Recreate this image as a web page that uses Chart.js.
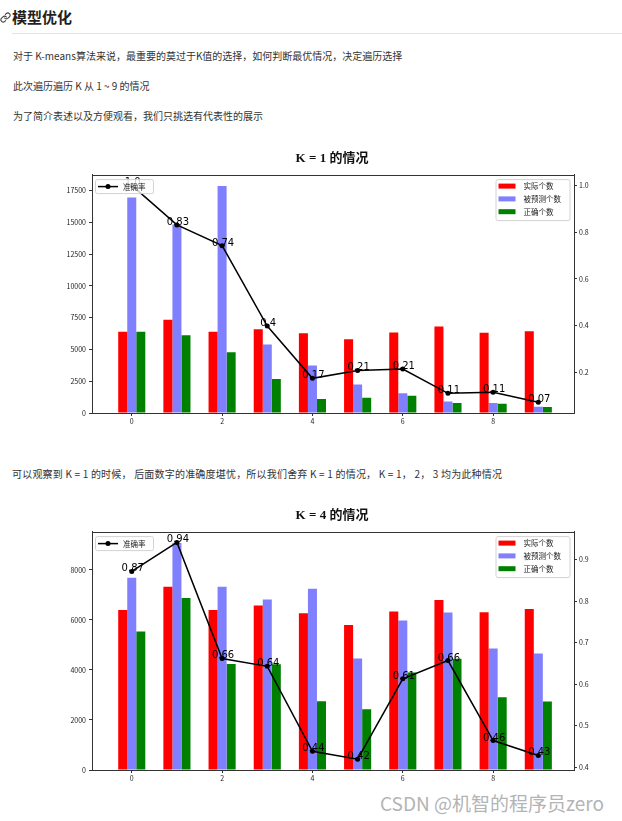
<!DOCTYPE html>
<html lang="zh-CN">
<head>
<meta charset="utf-8">
<title>模型优化</title>
<script src="https://cdn.jsdelivr.net/npm/chart.js@4.4.0/dist/chart.umd.min.js"></script>
<style>
  html, body { margin: 0; padding: 0; background: #fff; }
  body {
    width: 622px; height: 821px; position: relative; overflow: hidden;
    font-family: "Noto Sans CJK SC", "Noto Sans", sans-serif; color: #333;
  }
  .icon { position: absolute; left: 0; top: 12px; }
  h2 {
    position: absolute; left: 12px; top: 7px; margin: 0;
    font-size: 15px; line-height: 20px; font-weight: 700; color: #1f1f1f;
  }
  .rule { position: absolute; left: 12px; right: 0; top: 33px; height: 1px; background: #e3e3e3; }
  p { position: absolute; left: 13px; margin: 0; font-size: 10px; line-height: 14px; white-space: nowrap; }
  canvas { position: absolute; left: 0; }
  .mark {
    position: absolute; left: 380px; top: 791px; font-size: 19px; line-height: 24px;
    color: #b4b4b4; white-space: nowrap;
  }
</style>
</head>
<body>

<svg class="icon" width="11" height="11" viewBox="0 0 24 24" fill="none" stroke="#444" stroke-width="2.4" stroke-linecap="round">
  <path d="M10 13a5 5 0 0 0 7.54.54l3-3a5 5 0 0 0-7.07-7.07l-1.72 1.71"/>
  <path d="M14 11a5 5 0 0 0-7.54-.54l-3 3a5 5 0 0 0 7.07 7.07l1.71-1.71"/>
</svg>
<h2>模型优化</h2>
<div class="rule"></div>

<p style="top:49px">对于 K-means算法来说，最重要的莫过于K值的选择，如何判断最优情况，决定遍历选择</p>
<p style="top:79px">此次遍历遍历 K 从 1 ~ 9 的情况</p>
<p style="top:109px">为了简介表述以及方便观看，我们只挑选有代表性的展示</p>

<canvas id="grafico1" width="622" height="290" style="top:140px"></canvas>

<p style="top:467px; left:12px; letter-spacing:0.2px">可以观察到 K = 1 的时候， 后面数字的准确度堪忧，所以我们舍弃 K = 1 的情况， K = 1， 2， 3 均为此种情况</p>

<canvas id="grafico2" width="622" height="290" style="top:497px"></canvas>

<div class="mark">CSDN @机智的程序员zero</div>

<script>
// categorias (rótulo do cluster)
const kIndex = [0, 1, 2, 3, 4, 5, 6, 7, 8, 9];
const xTicks = [0, 2, 4, 6, 8];

// contagem real, igual nos dois casos
const actualCounts = [6400, 7330, 6400, 6580, 6270, 5800, 6340, 6800, 6310, 6440];

// K = 1
const predicted1 = [16950, 14820, 17860, 5380, 3740, 2240, 1560, 905, 780, 490];
const correct1 = [6400, 6110, 4780, 2680, 1100, 1190, 1360, 780, 725, 470];
const accuracy1 = [1.0, 0.831, 0.742, 0.398, 0.174, 0.208, 0.214, 0.11, 0.114, 0.072];
const countTicks1 = [0, 2500, 5000, 7500, 10000, 12500, 15000, 17500];
const accTicks1 = [0.2, 0.4, 0.6, 0.8, 1.0];

// K = 4
const predicted2 = [7690, 9080, 7330, 6820, 7250, 4460, 5980, 6300, 4860, 4660];
const correct2 = [5540, 6880, 4240, 4230, 2750, 2430, 3900, 4450, 2910, 2740];
const accuracy2 = [0.872, 0.942, 0.662, 0.643, 0.438, 0.419, 0.613, 0.657, 0.464, 0.428];
const countTicks2 = [0, 2000, 4000, 6000, 8000];
const accTicks2 = [0.4, 0.5, 0.6, 0.7, 0.8, 0.9];

const seriesNames = ["实际个数", "被预测个数", "正确个数"];
const lineName = "准确率";

Chart.defaults.font.family = '"Noto Sans CJK SC", "DejaVu Sans", sans-serif';
Chart.defaults.color = "#222";

// mesmo texto que o python imprime: round(x, 2)
function pyRound(v) {
  const s = String(Math.round(v * 100) / 100);
  return s.indexOf(".") < 0 ? s + ".0" : s;
}

function fixTicks(values) {
  return (scale) => { scale.ticks = values.map(v => ({ value: v })); };
}

function drawBox(ctx, x, y, w, h) {
  ctx.save();
  ctx.fillStyle = "rgba(255,255,255,0.8)";
  ctx.strokeStyle = "#d2d2d2";
  ctx.lineWidth = 1;
  ctx.beginPath();
  ctx.roundRect(x + 0.5, y + 0.5, w, h, 2);
  ctx.fill();
  ctx.stroke();
  ctx.restore();
}

const extras = {
  id: "extras",
  afterDatasetsDraw(chart) {
    // valores em cima dos pontos
    const ctx = chart.ctx;
    const ds = chart.data.datasets[3];
    const pts = chart.getDatasetMeta(3).data;
    ctx.save();
    ctx.font = '10px "DejaVu Sans"';
    ctx.fillStyle = "#000";
    ctx.textAlign = "center";
    ctx.textBaseline = "alphabetic";
    pts.forEach((p, i) => ctx.fillText(pyRound(ds.data[i]), p.x + 1, p.y));
    ctx.restore();
  },
  afterDraw(chart) {
    const ctx = chart.ctx;
    const a = chart.chartArea;
    const sets = chart.data.datasets;

    // borda de cima
    ctx.save();
    ctx.strokeStyle = "#333";
    ctx.lineWidth = 1;
    ctx.beginPath();
    ctx.moveTo(a.left, Math.round(a.top) + 0.5);
    ctx.lineTo(a.right, Math.round(a.top) + 0.5);
    ctx.stroke();
    ctx.restore();

    ctx.save();
    ctx.font = '7.5px "Noto Sans CJK SC"';
    ctx.textBaseline = "middle";
    ctx.fillStyle = "#222";

    // legenda da linha (esquerda)
    let x = a.left + 3, y = a.top + 4.5;
    drawBox(ctx, x, y, 58, 14);
    ctx.strokeStyle = "#000";
    ctx.lineWidth = 1.5;
    ctx.beginPath();
    ctx.moveTo(x + 3, y + 7.5);
    ctx.lineTo(x + 23, y + 7.5);
    ctx.stroke();
    ctx.fillStyle = "#000";
    ctx.beginPath();
    ctx.arc(x + 13, y + 7.5, 2.5, 0, Math.PI * 2);
    ctx.fill();
    ctx.fillStyle = "#222";
    ctx.fillText(sets[3].label, x + 28, y + 8);

    // legenda das barras (direita)
    x = a.right - 4.5 - 74;
    y = a.top + 4.5;
    drawBox(ctx, x, y, 74, 41);
    for (let i = 0; i < 3; i++) {
      const cy = y + 7 + i * 12.8;
      ctx.fillStyle = sets[i].backgroundColor;
      ctx.fillRect(x + 3, cy - 2.5, 17, 5);
      ctx.fillStyle = "#222";
      ctx.fillText(sets[i].label, x + 28, cy + 0.5);
    }
    ctx.restore();
  }
};

function gerarGrafico(canvasId, titulo, predicted, correct, accuracy, countTicks, accTicks) {
  const barMax = Math.max(...actualCounts, ...predicted, ...correct) * 1.05;
  const lo = Math.min(...accuracy), hi = Math.max(...accuracy);
  const pad = (hi - lo) * 0.05;
  const tick = { drawOnChartArea: false, drawTicks: true, tickLength: 3, color: "#333" };
  const border = { display: true, color: "#333", width: 1 };

  return new Chart(document.getElementById(canvasId).getContext("2d"), {
    type: "bar",
    data: {
      labels: kIndex,
      datasets: [
        { label: seriesNames[0], data: actualCounts, backgroundColor: "#ff0000", order: 1 },
        { label: seriesNames[1], data: predicted, backgroundColor: "#8080ff", order: 1 },
        { label: seriesNames[2], data: correct, backgroundColor: "#008000", order: 1 },
        {
          type: "line",
          label: lineName,
          data: accuracy,
          yAxisID: "y1",
          borderColor: "#000",
          borderWidth: 1.5,
          pointRadius: 2.5,
          pointBackgroundColor: "#000",
          pointBorderWidth: 0,
          tension: 0,
          order: 0
        }
      ]
    },
    options: {
      responsive: false,
      animation: false,
      layout: { padding: { left: 62, right: 20, top: 0, bottom: 0 } },
      datasets: { bar: { categoryPercentage: 0.6, barPercentage: 1.0, borderWidth: 0 } },
      plugins: {
        legend: { display: false },
        tooltip: { enabled: false },
        title: {
          display: true,
          text: titulo,
          color: "#111",
          font: { family: '"Liberation Serif", "Noto Sans CJK SC", serif', size: 13, weight: "bold" },
          lineHeight: 1.1,
          padding: { top: 11, bottom: 8 }
        }
      },
      scales: {
        x: {
          type: "linear",
          min: -0.88,
          max: 9.79,
          offset: false,
          grid: { ...tick, offset: false },
          border,
          ticks: { padding: 1, font: { size: 7 } },
          afterBuildTicks: fixTicks(xTicks),
          afterFit: (s) => { s.height = 17; }
        },
        y: {
          position: "left",
          min: 0,
          max: barMax,
          grid: tick,
          border,
          ticks: { padding: 3, font: { size: 7 }, callback: (v) => String(v) },
          afterBuildTicks: fixTicks(countTicks),
          afterFit: (s) => { s.width = 30; }
        },
        y1: {
          position: "right",
          min: lo - pad,
          max: hi + pad,
          grid: tick,
          border,
          ticks: { padding: 2, font: { size: 7 }, callback: (v) => v.toFixed(1) },
          afterBuildTicks: fixTicks(accTicks),
          afterFit: (s) => { s.width = 28; }
        }
      }
    },
    plugins: [extras]
  });
}

gerarGrafico("grafico1", "K = 1 的情况", predicted1, correct1, accuracy1, countTicks1, accTicks1);
gerarGrafico("grafico2", "K = 4 的情况", predicted2, correct2, accuracy2, countTicks2, accTicks2);
</script>
</body>
</html>
